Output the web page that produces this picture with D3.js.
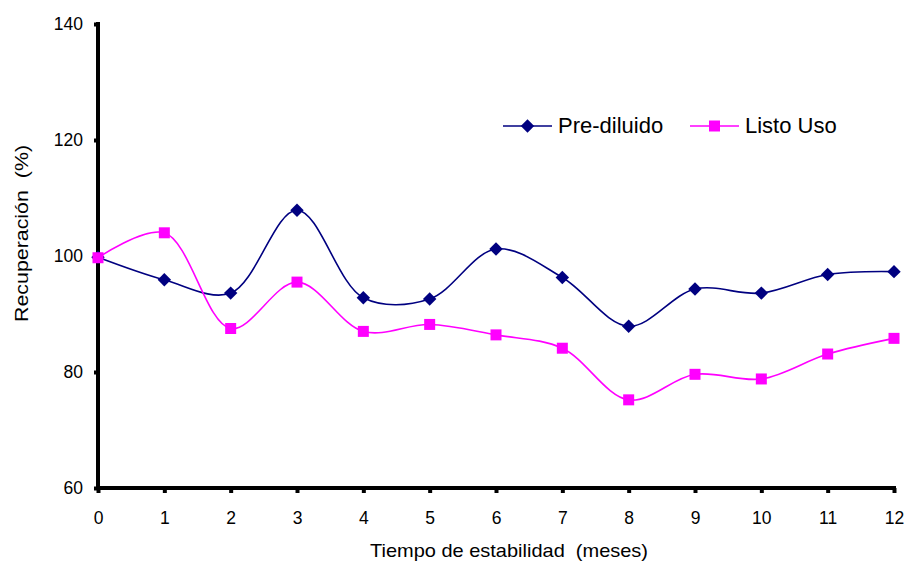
<!DOCTYPE html>
<html>
<head>
<meta charset="utf-8">
<script src="https://cdn.jsdelivr.net/npm/d3@7"></script>
<style>
  body { margin: 0; background: #fff; }
  text { font-family: "Liberation Sans", Arial, sans-serif; fill: #000; white-space: pre; }
</style>
</head>
<body>
<svg id="chart" width="906" height="562"></svg>
<script>
// Meses y valores.
var months = [0, 1, 2, 3, 4, 5, 6, 7, 8, 9, 10, 11, 12];
var preDiluido = [99.8, 95.9, 93.6, 107.9, 92.8, 92.6, 101.2, 96.3, 87.9, 94.3, 93.6, 96.8, 97.3];
var listoUso = [99.7, 104.0, 87.5, 95.5, 87.0, 88.2, 86.4, 84.1, 75.2, 79.6, 78.8, 83.1, 85.8];
var yTicks = [60, 80, 100, 120, 140];

var svg = d3.select('#chart');

// Scales for the plot area.
var x = d3.scaleLinear().domain([0, 12]).range([98, 894]);
var y = d3.scaleLinear().domain([60, 140]).range([488, 24]);

// Axes: thick black lines with small ticks.
var yAxis = svg.append('g')
  .attr('transform', 'translate(98,0)')
  .call(d3.axisLeft(y).tickValues(yTicks).tickSize(4).tickPadding(11).tickSizeOuter(0));
var xAxis = svg.append('g')
  .attr('transform', 'translate(0,488)')
  .call(d3.axisBottom(x).tickValues(months).tickSize(5).tickPadding(19).tickSizeOuter(0));

[yAxis, xAxis].forEach(function(g){
  g.select('.domain').attr('stroke', '#000').attr('stroke-width', 4);
  g.selectAll('.tick line').attr('stroke', '#000').attr('stroke-width', 4);
  g.selectAll('.tick text').style('font-size', '17.5px').attr('fill', '#000');
});
xAxis.select('.domain').attr('d', 'M96,0H896');
yAxis.select('.domain').attr('d', 'M0,22V490');

// Axis titles.
svg.append('text')
  .attr('x', 509).attr('y', 557)
  .attr('text-anchor', 'middle')
  .attr('textLength', 278)
  .attr('lengthAdjust', 'spacingAndGlyphs')
  .style('font-size', '19px')
  .text('Tiempo de estabilidad  (meses)');
svg.append('text')
  .attr('transform', 'translate(28,233.5) rotate(-90)')
  .attr('text-anchor', 'middle')
  .attr('textLength', 177)
  .attr('lengthAdjust', 'spacingAndGlyphs')
  .style('font-size', '19px')
  .text('Recuperación  (%)');

// Series drawn as smoothed lines with markers.
var series = [
  {name: 'Pre-diluido', values: preDiluido, color: '#000080', rotate: 45, size: 90},
  {name: 'Listo Uso', values: listoUso, color: '#ff00ff', rotate: 0, size: 121}
];

var marker = function(s){
  return d3.symbol().type(d3.symbolSquare).size(s.size)();
};

var line = d3.line()
  .x(function(d, i) { return x(months[i]); })
  .y(function(d) { return y(d); })
  .curve(d3.curveCatmullRom.alpha(0.5));

series.forEach(function(s){
  svg.append('path')
    .datum(s.values)
    .attr('fill', 'none')
    .attr('stroke', s.color)
    .attr('stroke-width', 1.6)
    .attr('d', line);

  svg.selectAll('.pt-' + s.name.replace(/\W/g, ''))
    .data(s.values)
    .enter()
    .append('path')
    .attr('transform', function(d, i) {
      return 'translate(' + x(months[i]) + ',' + y(d) + ') rotate(' + s.rotate + ')';
    })
    .attr('d', marker(s))
    .attr('fill', s.color);
});

// Legend.
var legend = svg.append('g');
var legendX = [503, 690];
series.forEach(function(s, i){
  var g = legend.append('g').attr('transform', 'translate(' + legendX[i] + ',126)');
  g.append('line').attr('x1', 0).attr('x2', 49).attr('y1', 0).attr('y2', 0)
    .attr('stroke', s.color).attr('stroke-width', 1.6);
  g.append('path').attr('transform', 'translate(24.5,0) rotate(' + s.rotate + ')')
    .attr('d', marker(s)).attr('fill', s.color);
  g.append('text').attr('x', 55).attr('y', 7).style('font-size', '22px').text(s.name);
});
</script>
</body>
</html>
